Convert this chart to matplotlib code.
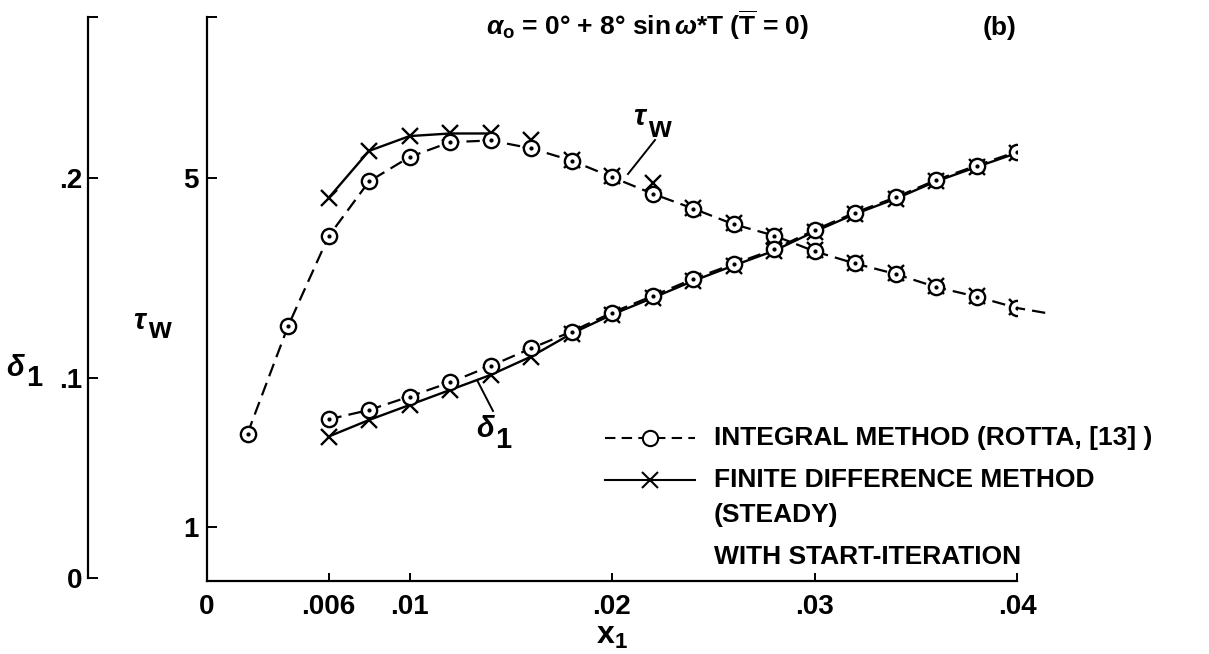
import matplotlib
matplotlib.use('Agg')
import matplotlib.pyplot as plt
from matplotlib.lines import Line2D

plt.rcParams['font.family'] = ['Liberation Sans', 'DejaVu Sans']
plt.rcParams['font.weight'] = 'bold'
plt.rcParams['mathtext.fontset'] = 'custom'
plt.rcParams['mathtext.rm'] = 'Liberation Sans:bold'
plt.rcParams['mathtext.bf'] = 'Liberation Sans:bold'
plt.rcParams['mathtext.it'] = 'Liberation Sans:italic:bold'

# integral method (Rotta) -- circles, dashed
int_x = [0.002, 0.004, 0.006, 0.008, 0.010, 0.012, 0.014, 0.016, 0.018, 0.020,
         0.022, 0.024, 0.026, 0.028, 0.030, 0.032, 0.034, 0.036, 0.038, 0.040]
int_tau = [2.07, 3.30, 4.33, 4.96, 5.24, 5.41, 5.43, 5.34, 5.20, 5.01,
           4.82, 4.65, 4.47, 4.34, 4.16, 4.02, 3.90, 3.75, 3.64, 3.51]
# dashed tau line runs a bit past the last circle
tau_end_x = 0.0415
tau_end = 3.45
int_dx = [0.006, 0.008, 0.010, 0.012, 0.014, 0.016, 0.018, 0.020, 0.022, 0.024,
          0.026, 0.028, 0.030, 0.032, 0.034, 0.036, 0.038, 0.040]
int_delta = [0.0793, 0.0840, 0.0907, 0.0978, 0.1060, 0.1148, 0.1232, 0.1327, 0.1410,
             0.1495, 0.1570, 0.1643, 0.1740, 0.1827, 0.1903, 0.1990, 0.2062, 0.2132]

# finite difference method (steady) -- crosses, solid
fd_x = [0.006, 0.008, 0.010, 0.012, 0.014, 0.016, 0.018, 0.020, 0.022, 0.024,
        0.026, 0.028, 0.030, 0.032, 0.034, 0.036, 0.038, 0.040]
fd_tau = [4.77, 5.31, 5.48, 5.51, 5.51, 5.43, 5.21, 5.02, 4.94, 4.66,
          4.48, 4.34, 4.17, 4.03, 3.91, 3.76, 3.65, 3.52]
fd_tau_solid = 5  # solid tau curve only drawn over the first points
fd_delta = [0.0707, 0.0790, 0.0865, 0.0940, 0.1015, 0.1107, 0.1222, 0.1317, 0.1400,
            0.1485, 0.1562, 0.1636, 0.1732, 0.1820, 0.1896, 0.1983, 0.2055, 0.2125]

W, H = 1209, 654
fig = plt.figure(figsize=(W / 100, H / 100), dpi=100)
ax = fig.add_axes([207 / W, (H - 581) / H, 810 / W, (581 - 17) / H])
ax2 = ax.twinx()

ax.set_xlim(0, 0.04)
ax.set_ylim(0.381, 6.845)
ax2.set_ylim(-0.0015, 0.2805)

dash = (0, (6, 3.2))
circ = dict(marker='o', ms=11, mfc='white', mec='black', mew=1.7)

# tau_w curves
ax.plot(int_x + [tau_end_x], int_tau + [tau_end], color='black', lw=1.6, ls=dash,
        clip_on=False, zorder=2)
ax.plot(fd_x[:fd_tau_solid], fd_tau[:fd_tau_solid], color='black', lw=1.7, zorder=2)
ax.plot(fd_x, fd_tau, ls='none', marker='x', ms=12, mec='black', mew=1.7, zorder=3)
ax.plot(int_x, int_tau, ls='none', zorder=4, **circ)
ax.plot(int_x, int_tau, ls='none', marker='o', ms=2, color='black', zorder=5)

# delta_1 curves
ax2.plot(fd_x, fd_delta, color='black', lw=1.7, zorder=2)
ax2.plot(fd_x, fd_delta, ls='none', marker='x', ms=12, mec='black', mew=1.7, zorder=3)
ax2.plot(int_dx, int_delta, color='black', lw=1.6, ls=dash, zorder=2)
ax2.plot(int_dx, int_delta, ls='none', zorder=4, **circ)
ax2.plot(int_dx, int_delta, ls='none', marker='o', ms=2, color='black', zorder=5)

# axes styling
for s in ['top', 'right']:
    ax.spines[s].set_visible(False)
for s in ['top', 'right', 'bottom']:
    ax2.spines[s].set_visible(False)
for sp in [ax.spines['left'], ax.spines['bottom'], ax2.spines['left']]:
    sp.set_linewidth(1.6)
ax2.spines['left'].set_visible(True)
ax2.spines['left'].set_position(('axes', -(207 - 88) / 810))
ax2.spines['left'].set_bounds(0, 0.2805)
ax2.yaxis.tick_left()

ax.set_xticks([0, 0.006, 0.01, 0.02, 0.03, 0.04])
ax.set_xticklabels(['0', '.006', '.01', '.02', '.03', '.04'])
ax.set_yticks([1, 5, 6.845])
ax.set_yticklabels(['1', '5', ''])
ax2.set_yticks([0, 0.1, 0.2, 0.2805])
ax2.set_yticklabels(['0', '.1', '.2', ''])

ax.tick_params(axis='x', direction='in', length=6, width=1.4, pad=9, labelsize=20)
ax.tick_params(axis='y', direction='in', length=7, width=1.4, pad=6, labelsize=20)
ax2.tick_params(axis='y', direction='in', length=7, width=1.4, pad=4, labelsize=20)


def px(x, y):
    return x / W, 1 - y / H


def sym_label(main, sub, x, y, dx, dy, size=21):
    # a symbol followed by a big bold subscript, as lettered on the original
    fig.text(*px(x, y), main, fontsize=size, ha='center', va='center')
    fig.text(*px(x + dx, y + dy), sub, fontsize=size, ha='center', va='center')


# axis labels
sym_label(r'$\delta$', '1', 16, 368, 18, 10)
sym_label(r'$\tau$', 'w', 141, 321, 18, 9)
fig.text(*px(612, 636), r'$\mathbf{x}_{\mathbf{1}}$', fontsize=23, ha='center', va='center')

# title
fig.text(*px(648, 25),
         r'$\alpha_{\mathbf{o}}$ = 0° + 8° sin$\,\omega$*T ($\overline{\mathrm{T}}$ = 0)',
         fontsize=19, ha='center', va='center')
fig.text(*px(1000, 28), '(b)', fontsize=19, ha='center', va='center')

# curve labels with leader lines
sym_label(r'$\tau$', 'w', 641, 117, 18, 12)
fig.lines.append(Line2D([655 / W, 628 / W], [1 - 140 / H, 1 - 174 / H],
                        transform=fig.transFigure, color='black', lw=1.4))
sym_label(r'$\delta$', '1', 486, 429, 17, 11)
fig.lines.append(Line2D([493 / W, 477 / W], [1 - 411 / H, 1 - 380 / H],
                        transform=fig.transFigure, color='black', lw=1.4))

# legend drawn by hand
fig.lines.append(Line2D([605 / W, 695 / W], [1 - 438 / H] * 2, transform=fig.transFigure,
                        color='black', lw=1.5, ls=(0, (5, 3))))
fig.lines.append(Line2D([650 / W], [1 - 438 / H], transform=fig.transFigure,
                        marker='o', ms=11, mfc='white', mec='black', mew=1.5))
fig.lines.append(Line2D([605 / W, 695 / W], [1 - 480 / H] * 2, transform=fig.transFigure,
                        color='black', lw=1.5))
fig.lines.append(Line2D([650 / W], [1 - 480 / H], transform=fig.transFigure,
                        marker='x', ms=11, mec='black', mew=1.5))
fig.text(*px(714, 438), 'INTEGRAL METHOD (ROTTA, [13] )', fontsize=19, va='center')
fig.text(*px(714, 480), 'FINITE DIFFERENCE METHOD', fontsize=19, va='center')
fig.text(*px(714, 515), '(STEADY)', fontsize=19, va='center')
fig.text(*px(714, 557), 'WITH START-ITERATION', fontsize=19, va='center')

fig.savefig('out.png', dpi=100)
plt.close(fig)
